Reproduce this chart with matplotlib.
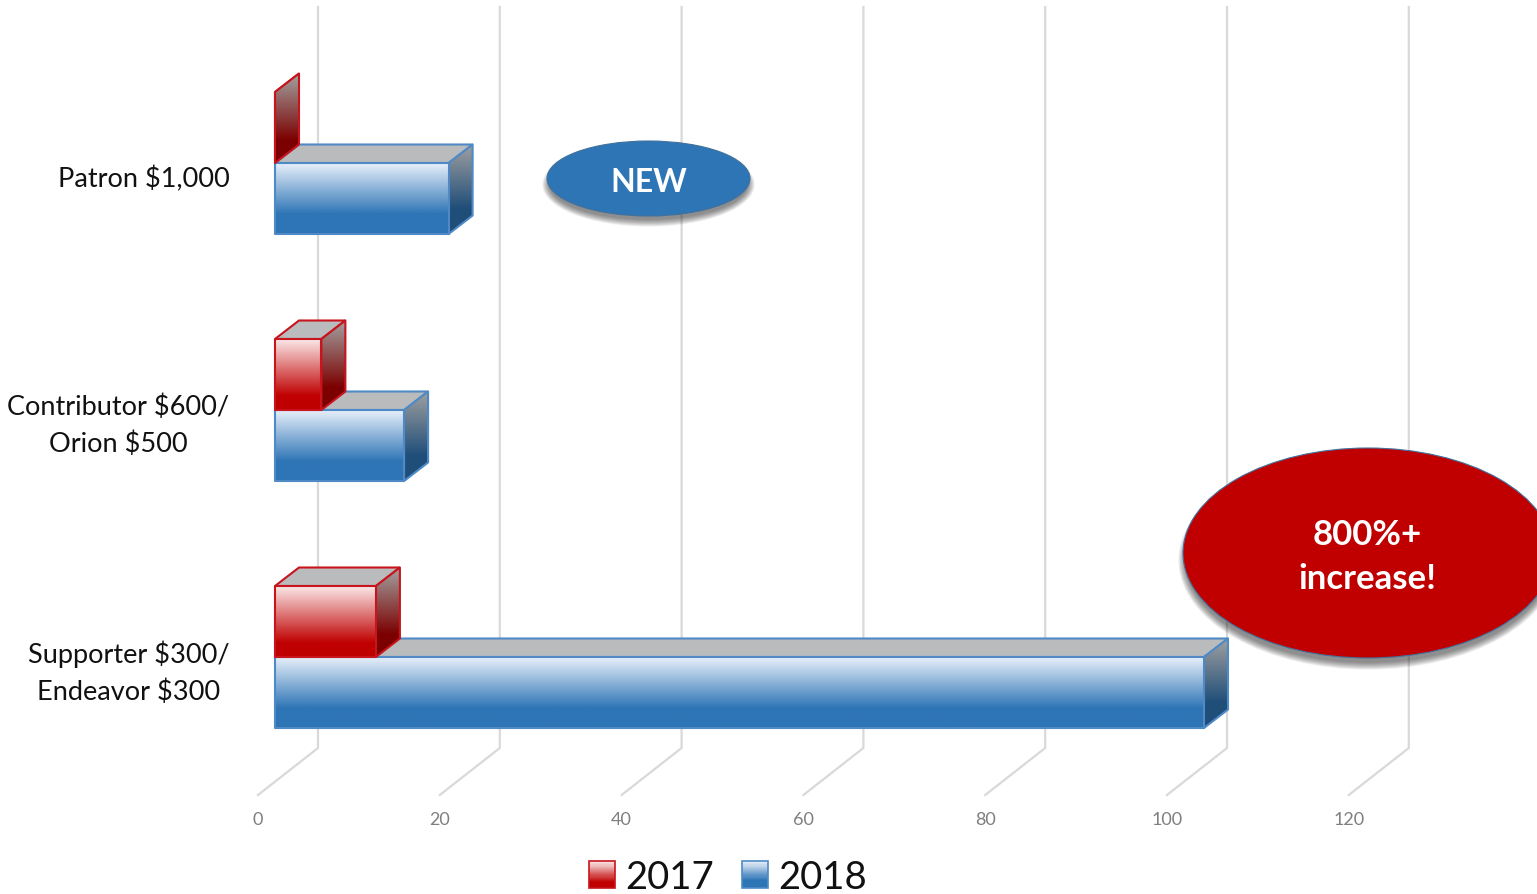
import matplotlib
matplotlib.use("Agg")
import matplotlib.pyplot as plt
import numpy as np
from matplotlib.colors import LinearSegmentedColormap
from matplotlib.legend_handler import HandlerBase
from matplotlib.patches import Ellipse, Patch, Polygon, Rectangle

plt.rcParams['font.family'] = ['Lato', 'DejaVu Sans']

# donnees
categories = ["Supporter $300/\nEndeavor $300", "Contributor $600/\nOrion $500", "Patron $1,000"]
series_names = ["2017", "2018"]
values_2017 = [11.1, 5.1, 0.0]
values_2018 = [102.2, 14.2, 19.1]
x_ticks = [0, 20, 40, 60, 80, 100, 120]

W, H = 1537, 895
PX_X = 9.09    # pixels par unite en x
PX_Y = 247.0   # pixels entre deux categories
Y0 = 658.0     # pixel de la categorie 0
BAR_H = 71 / PX_Y
DX, DY = 24 / PX_X, 18.5 / PX_Y   # profondeur du faux 3D

red_face = LinearSegmentedColormap.from_list("rf", [(0, "#fbe9e9"), (0.8, "#c00000"), (1, "#c00000")])
red_side = LinearSegmentedColormap.from_list("rs", [(0, "#a3a3a3"), (0.75, "#7c0000"), (1, "#7c0000")])
blue_face = LinearSegmentedColormap.from_list("bf", [(0, "#e8f0fa"), (0.72, "#2e75b6"), (1, "#2e75b6")])
blue_side = LinearSegmentedColormap.from_list("bs", [(0, "#a0a0a0"), (0.72, "#1f4e79"), (1, "#1f4e79")])
grad = np.linspace(0, 1, 256).reshape(-1, 1)

fig = plt.figure(figsize=(W / 100, H / 100), dpi=100, facecolor="white")
ax_left, ax_bottom = 240, 800
ax = fig.add_axes([ax_left / W, (H - ax_bottom) / H, (W - ax_left) / W, ax_bottom / H])
ax.set_xlim((ax_left - 275) / PX_X, (W - 275) / PX_X)
ax.set_ylim((Y0 - ax_bottom) / PX_Y, Y0 / PX_Y)
ax.set_autoscale_on(False)
for s in ax.spines.values():
    s.set_visible(False)
ax.patch.set_alpha(0)

# grille : mur du fond puis sol
wall_x = 43 / PX_X
floor_x = -17 / PX_X
wall_top = (Y0 - 8) / PX_Y
wall_bottom = (Y0 - 749) / PX_Y
floor_y = (Y0 - 796) / PX_Y
for t in x_ticks:
    ax.plot([t + wall_x, t + wall_x, t + floor_x], [wall_top, wall_bottom, floor_y],
            color="#d9d9d9", lw=1.6, zorder=1, solid_joinstyle="miter", clip_on=False)


def gradient_poly(pts, cmap, edge, zorder):
    poly = Polygon(pts, closed=True, facecolor="none", edgecolor=edge, lw=1.5, zorder=zorder + 0.1,
                   joinstyle="round")
    ax.add_patch(poly)
    xs = [p[0] for p in pts]
    ys = [p[1] for p in pts]
    if max(xs) > min(xs):
        im = ax.imshow(grad, cmap=cmap, aspect="auto", origin="upper", zorder=zorder,
                       extent=(min(xs), max(xs), min(ys), max(ys)), interpolation="bilinear")
        im.set_clip_path(poly)


def draw_bar(x, y0, y1, face, side, edge, zorder):
    # dessus, cote puis face avant
    top = [(0, y1), (x, y1), (x + DX, y1 + DY), (DX, y1 + DY)]
    ax.add_patch(Polygon(top, closed=True, facecolor="#b9bbbd", edgecolor=edge, lw=1.5, zorder=zorder))
    gradient_poly([(x, y0), (x, y1), (x + DX, y1 + DY), (x + DX, y0 + DY)], side, edge, zorder + 0.2)
    gradient_poly([(0, y0), (x, y0), (x, y1), (0, y1)], face, edge, zorder + 0.4)


for i in range(len(categories)):
    draw_bar(values_2018[i], i - BAR_H, i, blue_face, blue_side, "#4f8ac6", 3 + i)
    draw_bar(values_2017[i], i, i + BAR_H, red_face, red_side, "#c8141c", 3.5 + i)

ax.set_xticks([t + floor_x for t in x_ticks])
ax.set_xticklabels([str(t) for t in x_ticks], fontsize=13, color="#7f7f7f")
ax.set_yticks([i - 15 / PX_Y for i in range(len(categories))])
ax.set_yticklabels(categories, fontsize=19.5, color="#111111", ha="right", multialignment="center",
                   linespacing=1.58, va="center")
ax.tick_params(axis="both", length=0)
ax.tick_params(axis="x", pad=9)
ax.tick_params(axis="y", pad=7.5)


class GradientHandler(HandlerBase):
    def __init__(self, cmap, edge):
        super().__init__()
        self.cmap = cmap
        self.edge = edge

    def create_artists(self, legend, orig_handle, xdescent, ydescent, width, height, fontsize, trans):
        arts = []
        n = 24
        for k in range(n):
            arts.append(Rectangle((-xdescent, -ydescent + height * (n - k - 1) / n), width, height / n + 0.2,
                                  facecolor=self.cmap(k / (n - 1)), edgecolor="none", transform=trans))
        arts.append(Rectangle((-xdescent, -ydescent), width, height, facecolor="none",
                              edgecolor=self.edge, lw=1.2, transform=trans))
        return arts


h17 = Patch(label=series_names[0])
h18 = Patch(label=series_names[1])
ax.legend(handles=[h17, h18], loc="lower center", bbox_to_anchor=(728 / W, -1 / H),
          bbox_transform=fig.transFigure, ncol=2, frameon=False, fontsize=27.5,
          handlelength=0.68, handleheight=0.68, handletextpad=0.27, columnspacing=0.74,
          borderpad=0, borderaxespad=0,
          handler_map={h17: GradientHandler(red_face, "#c8141c"), h18: GradientHandler(blue_face, "#4f8ac6")},
          labelcolor="#111111")

# bulles en surimpression, en pixels
over = fig.add_axes([0, 0, 1, 1])
over.set_xlim(0, W)
over.set_ylim(H, 0)
over.axis("off")


def bubble(cx, cy, w, h, color, label, size, drop, text_dx, text_dy):
    for k in range(14, 0, -1):
        over.add_patch(Ellipse((cx, cy + drop), w + k * 1.1 - 6, h + k * 1.1 - 6, facecolor="#303030",
                               edgecolor="none", alpha=0.05, zorder=5))
    over.add_patch(Ellipse((cx, cy), w, h, facecolor=color, edgecolor="#41719c", lw=0.8, zorder=6))
    over.text(cx + text_dx, cy + text_dy, label, color="white", fontsize=size, fontweight="bold",
              ha="center", va="center", linespacing=1.46, zorder=7)


bubble(648.5, 179.5, 203, 75, "#2e75b6", "NEW", 23, 6, 0, 3)
bubble(1368, 554, 370, 210, "#c00000", "800%+\nincrease!", 25, 7, -1, 3)

fig.savefig("out.png", dpi=100)
